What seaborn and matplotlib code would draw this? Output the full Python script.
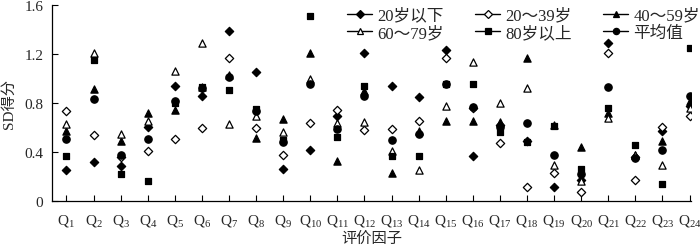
import matplotlib
matplotlib.use("Agg")
import matplotlib.pyplot as plt
from matplotlib.lines import Line2D
import seaborn as sns
import pandas as pd
import numpy as np

factors = [f"Q{i}" for i in range(1, 25)]
age_under20 = [0.25, 0.316, 0.283, 0.60, 0.94, 0.855, 1.388, 1.053, 0.256, 0.416, 0.689, 1.21,
               0.939, 0.844, 1.233, 0.362, 0.62, 0.488, 0.114, 0.17, 1.285, 0.36, 0.566, 0.776]
age_20_39 = [0.735, 0.536, 0.36, 0.41, 0.506, 0.593, 1.167, 0.596, 0.376, 0.637, 0.74, 0.577,
             0.585, 0.653, 1.167, 0.76, 0.471, 0.114, 0.226, 0.069, 1.206, 0.169, 0.60, 0.689]
age_40_59 = [0.566, 0.91, 0.49, 0.72, 0.74, 0.93, 1.026, 0.514, 0.667, 1.21, 0.322, 0.90,
             0.226, 0.57, 0.651, 0.651, 0.64, 1.163, 0.62, 0.44, 0.72, 0.37, 0.49, 0.816]
age_60_79 = [0.63, 1.21, 0.547, 0.65, 1.06, 1.285, 0.63, 0.69, 0.56, 0.993, 0.632, 0.64,
             0.408, 0.253, 0.771, 1.13, 0.798, 0.918, 0.29, 0.163, 0.672, 0.37, 0.29, 0.757]
age_80plus = [0.362, 1.15, 0.215, 0.158, 0.80, 0.93, 0.904, 0.749, 0.50, 1.51, 0.522, 0.934,
              0.367, 0.367, 0.95, 0.95, 0.558, 0.477, 0.612, 0.26, 0.754, 0.457, 0.136, 1.247]
mean_val = [0.504, 0.83, 0.375, 0.506, 0.815, 0.92, 1.012, 0.73, 0.48, 0.953, 0.585, 0.852,
            0.498, 0.545, 0.95, 0.767, 0.60, 0.632, 0.376, 0.22, 0.931, 0.346, 0.414, 0.857]

series_names = ["20岁以下", "20～39岁", "40～59岁", "60～79岁", "80岁以上", "平均值"]
series_vals = [age_under20, age_20_39, age_40_59, age_60_79, age_80plus, mean_val]
# marker, facecolor, size
styles = [("D", "black", 18), ("D", "white", 18), ("^", "black", 27),
          ("^", "white", 27), ("s", "black", 24), ("o", "black", 28)]

sns.set_style("ticks")
plt.rcParams['font.family'] = ['Liberation Serif', 'Noto Sans CJK SC']
plt.rcParams['mathtext.fontset'] = 'custom'
plt.rcParams['mathtext.rm'] = 'Liberation Serif'
plt.rcParams['mathtext.it'] = 'Liberation Serif'

fig = plt.figure(figsize=(7.0, 2.51), dpi=100)
ax = fig.add_axes([0.074, 0.196, 0.913, 0.781])

xpos = np.arange(len(factors))
handles = []
for name, vals, (mk, fc, sz) in zip(series_names, series_vals, styles):
    df = pd.DataFrame({"x": xpos, "y": vals})
    sns.scatterplot(data=df, x="x", y="y", marker=mk, s=sz, color=fc,
                    edgecolor="black", linewidth=0.9, ax=ax, legend=False, zorder=3)
    handles.append(Line2D([0], [0], color="black", lw=1.0, marker=mk,
                          markerfacecolor=fc, markeredgecolor="black",
                          markersize=4.5 if mk != "D" else 3.8, markeredgewidth=0.9))

ax.set_xlim(-0.54, 23.05)
ax.set_ylim(0, 1.6)
ax.set_yticks([0, 0.4, 0.8, 1.2, 1.6])
ax.set_yticklabels(["0", "0.4", "0.8", "1.2", "1.6"], fontsize=11)
ax.set_xticks(xpos)
ax.set_xticklabels([rf"$\mathregular{{Q_{{{i}}}}}$" for i in range(1, 25)], fontsize=11)
ax.tick_params(axis="y", direction="in", length=4, width=0.8, color="black", pad=6)
ax.tick_params(axis="x", direction="in", length=4, width=0.8, color="black", pad=8)
for s in ["top", "right"]:
    ax.spines[s].set_visible(False)
for s in ["left", "bottom"]:
    ax.spines[s].set_color("black")
    ax.spines[s].set_linewidth(0.9)
ax.set_xlabel("评价因子", fontsize=11, labelpad=2)
ax.set_ylabel("SD得分", fontsize=11, labelpad=6)

# row-wise legend order for a 3-column legend
order = [0, 3, 1, 4, 2, 5]
fig.legend([handles[i] for i in order], [series_names[i] for i in order],
           loc="upper left", bbox_to_anchor=(0.484, 1.0),
           ncol=3, frameon=False, fontsize=12, handlelength=1.5, handletextpad=0.3,
           columnspacing=1.9, labelspacing=0.1, borderaxespad=0.1)

fig.savefig("out.png", dpi=100)
